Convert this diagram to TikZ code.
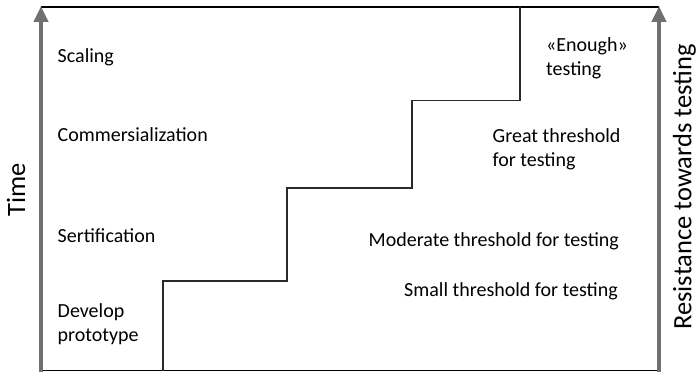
\documentclass[tikz,border=0pt]{standalone}
\usepackage{fontspec}
\setmainfont{Carlito}
\usetikzlibrary{arrows.meta}
\definecolor{axisgray}{HTML}{707070}
\definecolor{stairgray}{HTML}{2A2A2A}
\begin{document}
\begin{tikzpicture}[x=1pt,y=1pt,
  axisarrow/.style={draw=axisgray,line width=4pt,
    -{Triangle[width=14pt,length=16pt]}},
  frameline/.style={draw=black,line width=1.4pt},
  stairline/.style={draw=stairgray,line width=1.3pt,line join=miter},
  lbl/.style={font=\fontsize{20}{24}\selectfont,inner sep=0pt,anchor=base west,align=left},
  axislbl/.style={font=\fontsize{26.5}{32}\selectfont,inner sep=0pt,rotate=90}]
\useasboundingbox (0,0) rectangle (698,372);
% frame corners and stair corners
\coordinate (bl) at (41,0);
\coordinate (tl) at (41,366);
\coordinate (br) at (659,0);
\coordinate (tr) at (659,366);
\coordinate (fbl) at (41,1.5);
\coordinate (fbr) at (659,1.5);
\coordinate (ftl) at (41,365);
\coordinate (ftr) at (659,365);
\coordinate (s0) at (163,1.5);
\coordinate (s1) at (163,91);
\coordinate (s2) at (287,91);
\coordinate (s3) at (287,184);
\coordinate (s4) at (412,184);
\coordinate (s5) at (412,271.5);
\coordinate (s6) at (520,271.5);
\coordinate (s7) at (520,365);
% top and bottom edges
\draw[frameline] (ftl) -- (ftr);
\draw[frameline] (fbl) -- (fbr);
% staircase
\draw[stairline] (s0) -- (s1) -- (s2) -- (s3) -- (s4) -- (s5) -- (s6) -- (s7);
% axes
\draw[axisarrow] (bl) -- (tl);
\draw[axisarrow] (br) -- (tr);
% axis labels
\node[axislbl] (time) at (16,182) {Time};
\node[axislbl] (resist) at (684.5,185) {Resistance towards testing};
% phases (multi-line nodes are placed by the baseline of their last line)
\node[lbl] (scaling) at (57.5,309) {Scaling};
\node[lbl] (comm) at (57.5,230.5) {Commersialization};
\node[lbl] (sert) at (57.5,129) {Sertification};
\node[lbl] (dev) at (57.5,31) {Develop\\prototype};
% thresholds
\node[lbl] (enough) at (546,296) {«Enough»\\testing};
\node[lbl] (great) at (492.5,205.5) {Great threshold\\for testing};
\node[lbl] (moderate) at (368.5,125) {Moderate threshold for testing};
\node[lbl] (small) at (404,75) {Small threshold for testing};
\end{tikzpicture}
\end{document}
